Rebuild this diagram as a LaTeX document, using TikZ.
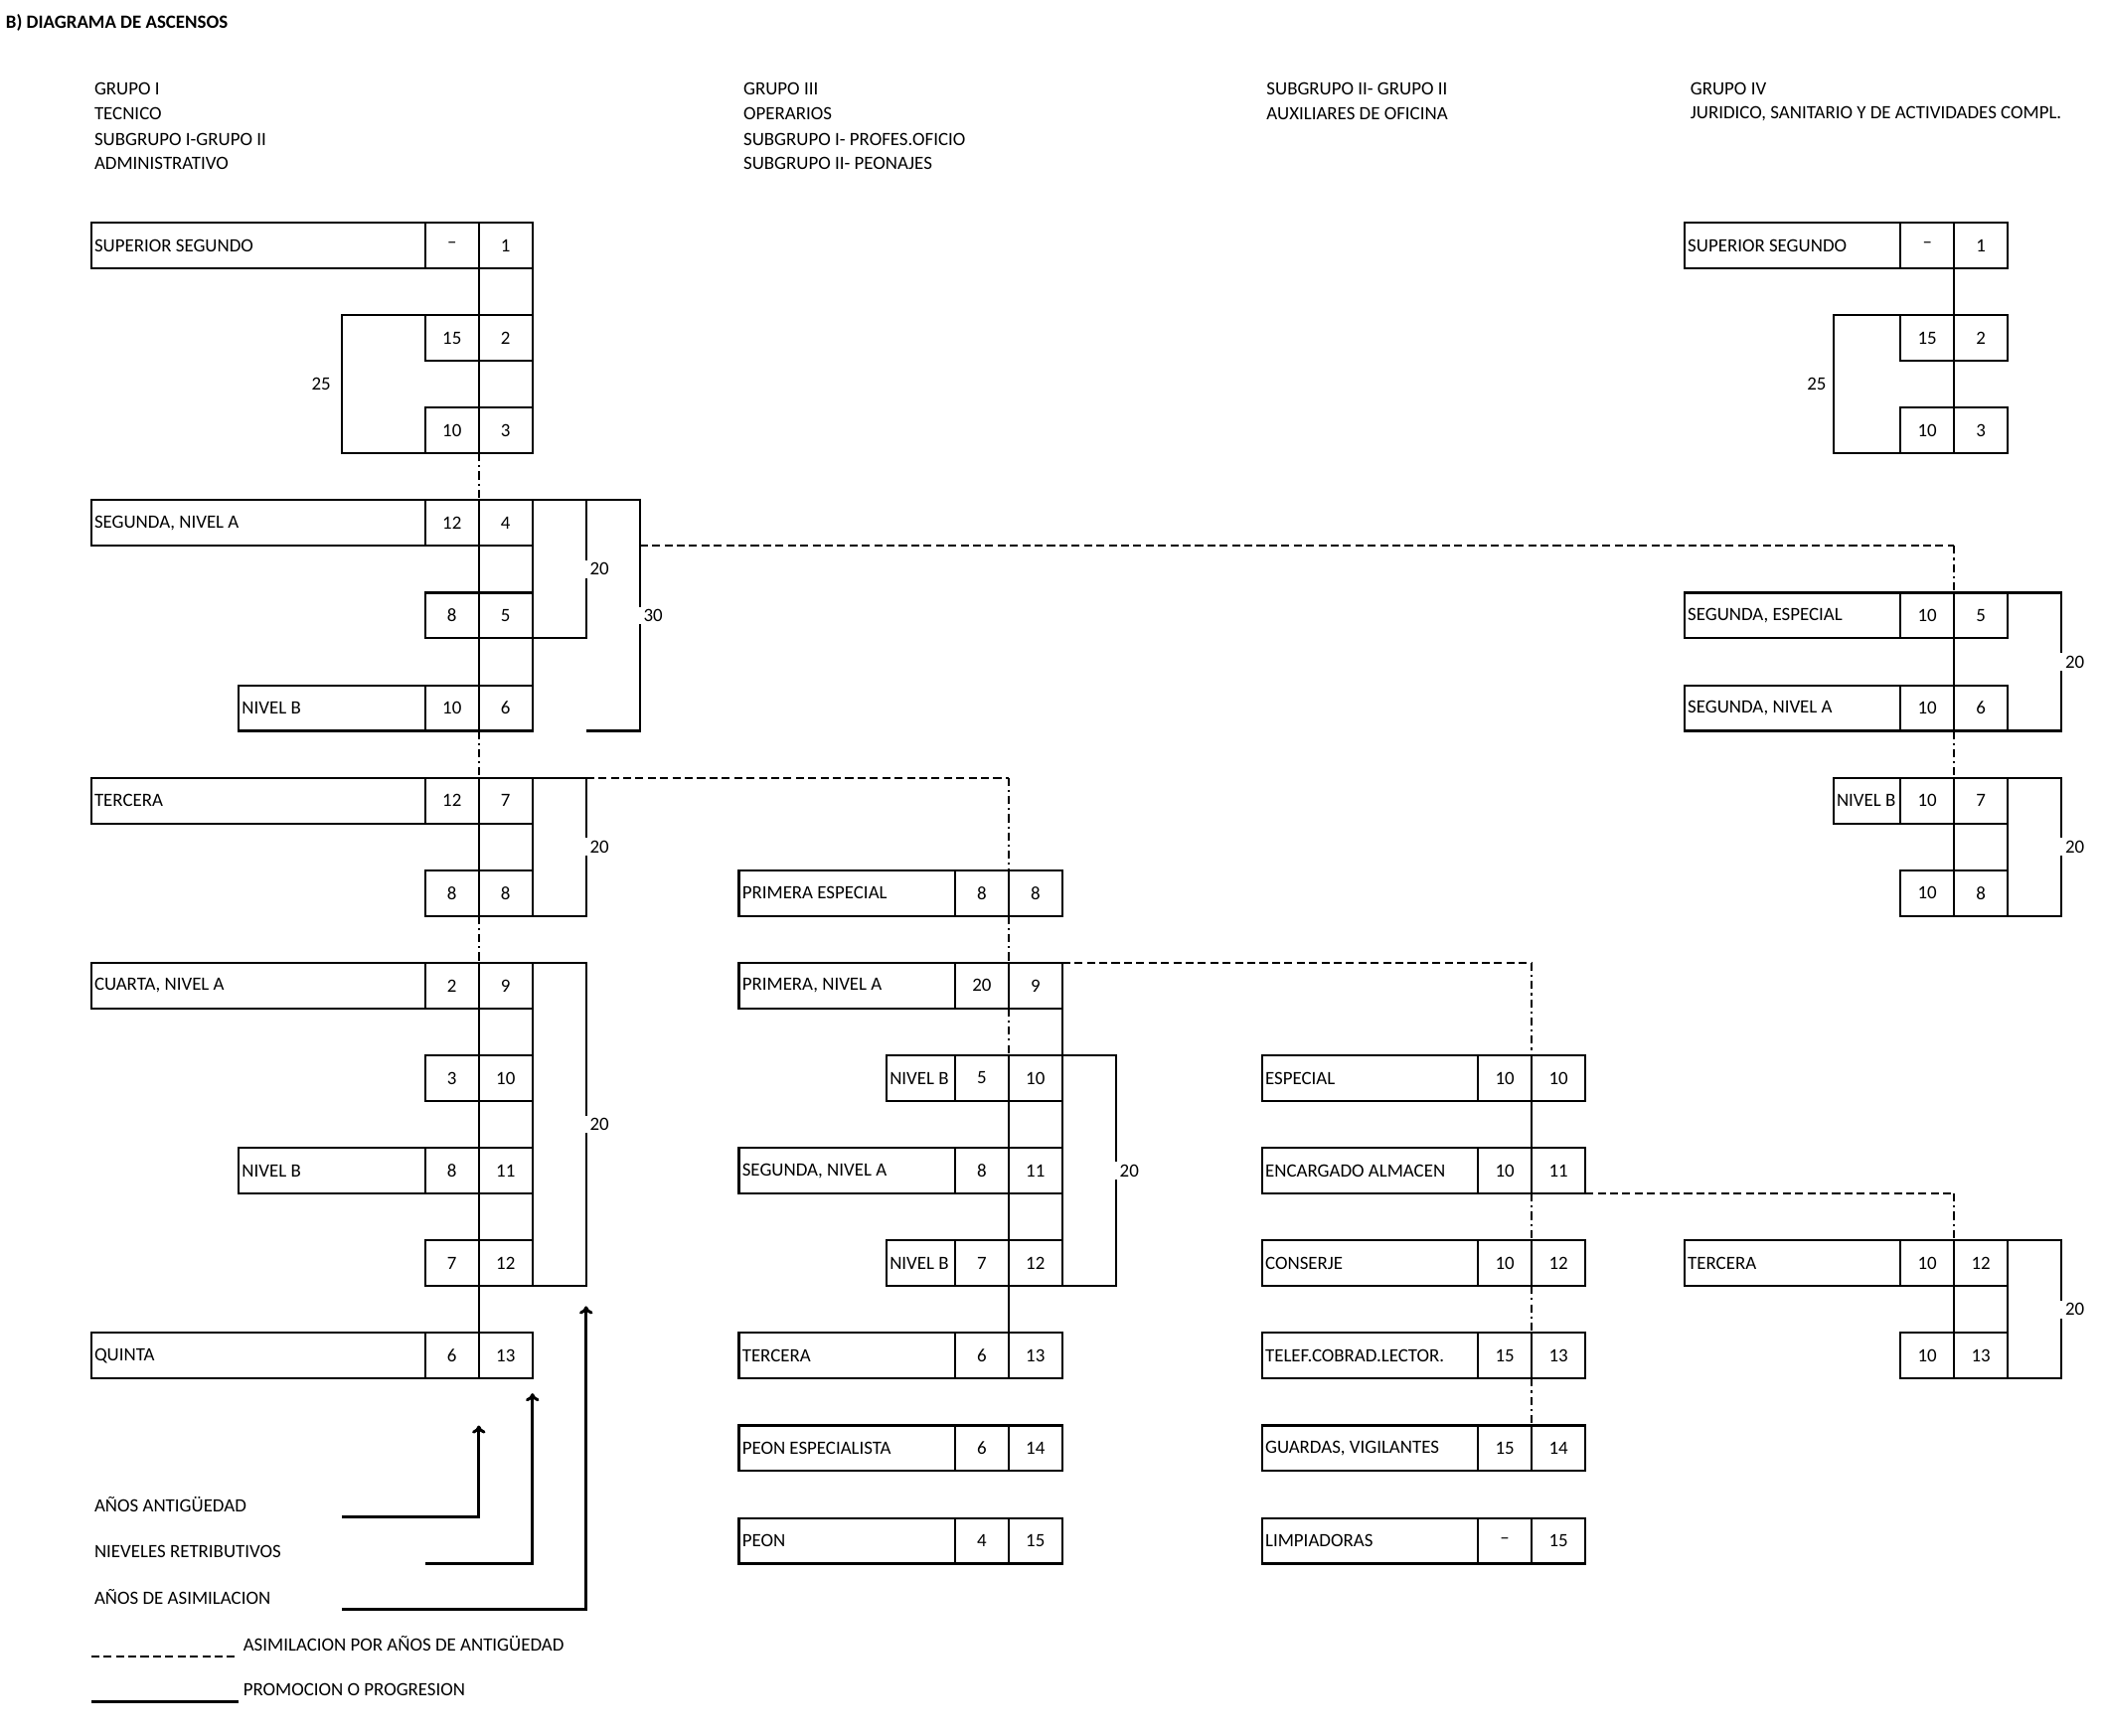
\documentclass[tikz,border=0pt]{standalone}
\usepackage{fontspec}
\setmainfont{Carlito}
\usetikzlibrary{arrows.meta,positioning}
\tikzset{
    caja/.style={line width=0.8pt},
    asim/.style={line width=0.8pt, dash pattern=on 3pt off 1.6pt},
    asimv/.style={line width=0.8pt, dash pattern=on 3pt off 1.5pt on 0.8pt off 1.5pt},
    etq/.style={anchor=west, inner sep=1pt, font=\fontsize{7}{8}\selectfont},
    num/.style={inner sep=0pt, font=\fontsize{7}{8}\selectfont},
    cota/.style={fill=white, inner xsep=2pt, inner ysep=1pt, font=\fontsize{7}{8}\selectfont},
    txt/.style={anchor=west, inner sep=0pt, font=\fontsize{7}{8}\selectfont},
    flecha/.style={line width=1.1pt, -{To[length=3pt,width=5pt]}}
}
% fila: x0, xa, row, name, label, a, b
\newcommand{\fila}[7]{%
    \pgfmathsetmacro\yc{114+69*#3}
    \draw[caja] (#1,\yc-17) rectangle (#2+80,\yc+17);
    \draw[caja] (#2,\yc-17) -- (#2,\yc+17) (#2+40,\yc-17) -- (#2+40,\yc+17);
    \node[etq] (#4) at (#1,\yc) {#5};
    \node[num] (#4a) at (#2+20,\yc) {#6};
    \node[num] (#4b) at (#2+60,\yc) {#7};
}
% linea entre filas: x, row1, row2, style
\newcommand{\enlace}[4]{%
    \pgfmathsetmacro\ya{114+69*#2+17}
    \pgfmathsetmacro\yb{114+69*#3-17}
    \draw[#4] (#1,\ya) -- (#1,\yb);
}
% corchete: x, ytop, ybot, dir, label, name
\newcommand{\corchete}[6]{%
    \draw[caja] (#1,#2) -- (#1+#4,#2) -- (#1+#4,#3) -- (#1,#3);
    \node[cota] (#6) at (#1+#4*1.25,{(#2+#3)/2}) {#5};
}
\begin{document}
\begin{tikzpicture}[x=0.5pt,y=-0.5pt]
    \useasboundingbox (0,0) rectangle (1568,1294);
    \node[txt, font=\fontsize{7}{8}\selectfont\bfseries] (titulo) at (4,17) {B) DIAGRAMA DE ASCENSOS};
    % cabeceras
    \node[txt] (g1a) at (70,66) {GRUPO I};
    \node[txt] (g1b) at (70,85) {TECNICO};
    \node[txt] (g1c) at (70,104) {SUBGRUPO I-GRUPO II};
    \node[txt] (g1d) at (70,122) {ADMINISTRATIVO};
    \node[txt] (g3a) at (554,66) {GRUPO III};
    \node[txt] (g3b) at (554,85) {OPERARIOS};
    \node[txt] (g3c) at (554,104) {SUBGRUPO I- PROFES.OFICIO};
    \node[txt] (g3d) at (554,122) {SUBGRUPO II- PEONAJES};
    \node[txt] (g2a) at (944,66) {SUBGRUPO II- GRUPO II};
    \node[txt] (g2b) at (944,85) {AUXILIARES DE OFICINA};
    \node[txt] (g4a) at (1260,66) {GRUPO IV};
    \node[txt] (g4b) at (1260,85) {JURIDICO, SANITARIO Y DE ACTIVIDADES COMPL.};

    % grupo I
    \fila{68}{317}{1}{ia}{SUPERIOR SEGUNDO}{--}{1}
    \fila{317}{317}{2}{ib}{}{15}{2}
    \fila{317}{317}{3}{ic}{}{10}{3}
    \fila{68}{317}{4}{id}{SEGUNDA, NIVEL A}{12}{4}
    \fila{317}{317}{5}{ie}{}{8}{5}
    \fila{178}{317}{6}{if}{NIVEL B}{10}{6}
    \fila{68}{317}{7}{ig}{TERCERA}{12}{7}
    \fila{317}{317}{8}{ih}{}{8}{8}
    \fila{68}{317}{9}{ii}{CUARTA, NIVEL A}{2}{9}
    \fila{317}{317}{10}{ij}{}{3}{10}
    \fila{178}{317}{11}{ik}{NIVEL B}{8}{11}
    \fila{317}{317}{12}{il}{}{7}{12}
    \fila{68}{317}{13}{im}{QUINTA}{6}{13}
    \foreach \r in {1,2,4,5,7,9,10,11,12} {\pgfmathtruncatemacro\s{\r+1}\enlace{357}{\r}{\s}{caja}}
    \foreach \r in {1,2,5,7,9,10,11} {\pgfmathtruncatemacro\s{\r+1}\enlace{397}{\r}{\s}{caja}}
    \draw[caja] (397,407) -- (397,545);
    \foreach \r in {3,6,8} {\pgfmathtruncatemacro\s{\r+1}\enlace{357}{\r}{\s}{asimv}}
    \corchete{317}{235}{338}{-62}{25}{c25}
    \corchete{397}{373}{476}{40}{20}{c20a}
    \corchete{437}{373}{545}{40}{30}{c30}
    \corchete{397}{580}{683}{40}{20}{c20b}
    \corchete{397}{718}{959}{40}{20}{c20c}

    % grupo III
    \fila{551}{712}{8}{oa}{PRIMERA ESPECIAL}{8}{8}
    \fila{551}{712}{9}{ob}{PRIMERA, NIVEL A}{20}{9}
    \fila{661}{712}{10}{oc}{NIVEL B}{5}{10}
    \fila{551}{712}{11}{od}{SEGUNDA, NIVEL A}{8}{11}
    \fila{661}{712}{12}{oe}{NIVEL B}{7}{12}
    \fila{551}{712}{13}{of}{TERCERA}{6}{13}
    \fila{551}{712}{14}{og}{PEON ESPECIALISTA}{6}{14}
    \fila{551}{712}{15}{oh}{PEON}{4}{15}
    \foreach \r in {10,11,12} {\pgfmathtruncatemacro\s{\r+1}\enlace{752}{\r}{\s}{caja}}
    \foreach \r in {8,9} {\pgfmathtruncatemacro\s{\r+1}\enlace{752}{\r}{\s}{asimv}}
    \foreach \r in {9,10,11} {\pgfmathtruncatemacro\s{\r+1}\enlace{792}{\r}{\s}{caja}}
    \corchete{792}{787}{959}{40}{20}{c20d}

    % auxiliares
    \fila{941}{1102}{10}{aa}{ESPECIAL}{10}{10}
    \fila{941}{1102}{11}{ab}{ENCARGADO ALMACEN}{10}{11}
    \fila{941}{1102}{12}{ac}{CONSERJE}{10}{12}
    \fila{941}{1102}{13}{ad}{TELEF.COBRAD.LECTOR.}{15}{13}
    \fila{941}{1102}{14}{ae}{GUARDAS, VIGILANTES}{15}{14}
    \fila{941}{1102}{15}{af}{LIMPIADORAS}{--}{15}
    \enlace{1142}{10}{11}{caja}
    \foreach \r in {11,12,13} {\pgfmathtruncatemacro\s{\r+1}\enlace{1142}{\r}{\s}{asimv}}

    % grupo IV
    \fila{1256}{1417}{1}{ja}{SUPERIOR SEGUNDO}{--}{1}
    \fila{1417}{1417}{2}{jb}{}{15}{2}
    \fila{1417}{1417}{3}{jc}{}{10}{3}
    \fila{1256}{1417}{5}{jd}{SEGUNDA, ESPECIAL}{10}{5}
    \fila{1256}{1417}{6}{je}{SEGUNDA, NIVEL A}{10}{6}
    \fila{1367}{1417}{7}{jf}{NIVEL B}{10}{7}
    \fila{1417}{1417}{8}{jg}{}{10}{8}
    \fila{1256}{1417}{12}{jh}{TERCERA}{10}{12}
    \fila{1417}{1417}{13}{ji}{}{10}{13}
    \foreach \r in {1,2,5,7,12} {\pgfmathtruncatemacro\s{\r+1}\enlace{1457}{\r}{\s}{caja}}
    \enlace{1457}{6}{7}{asimv}
    \enlace{1497}{7}{8}{caja}
    \enlace{1497}{12}{13}{caja}
    \corchete{1417}{235}{338}{-50}{25}{c25b}
    \corchete{1497}{442}{545}{40}{20}{c20e}
    \corchete{1497}{580}{683}{40}{20}{c20f}
    \corchete{1497}{925}{1028}{40}{20}{c20g}

    % asimilaciones
    \draw[asim] (477,407) -- (1457,407);
    \draw[asimv] (1457,407) -- (1457,442);
    \draw[asim] (437,580) -- (752,580);
    \draw[asimv] (752,580) -- (752,649);
    \draw[asim] (792,718) -- (1142,718);
    \draw[asimv] (1142,718) -- (1142,787);
    \draw[asim] (1182,890) -- (1457,890);
    \draw[asimv] (1457,890) -- (1457,925);

    % leyenda
    \node[txt] (lant) at (70,1122) {AÑOS ANTIGÜEDAD};
    \node[txt] (lniv) at (70,1157) {NIEVELES RETRIBUTIVOS};
    \node[txt] (lasi) at (70,1191) {AÑOS DE ASIMILACION};
    \coordinate (pant) at (255,1131);
    \coordinate (pniv) at (317,1166);
    \coordinate (pasi) at (255,1200);
    \draw[flecha] (pant) -| (357,1063);
    \draw[flecha] (pniv) -| (397,1039);
    \draw[flecha] (pasi) -| (437,974);
    \coordinate (la) at (68,1235);
    \coordinate (lp) at (68,1269);
    \node[txt] (tasim) at (181,1226) {ASIMILACION POR AÑOS DE ANTIGÜEDAD};
    \node[txt] (tprom) at (181,1260) {PROMOCION O PROGRESION};
    \draw[asim] (la) -- ++(110,0);
    \draw[caja] (lp) -- ++(110,0);
\end{tikzpicture}
\end{document}
